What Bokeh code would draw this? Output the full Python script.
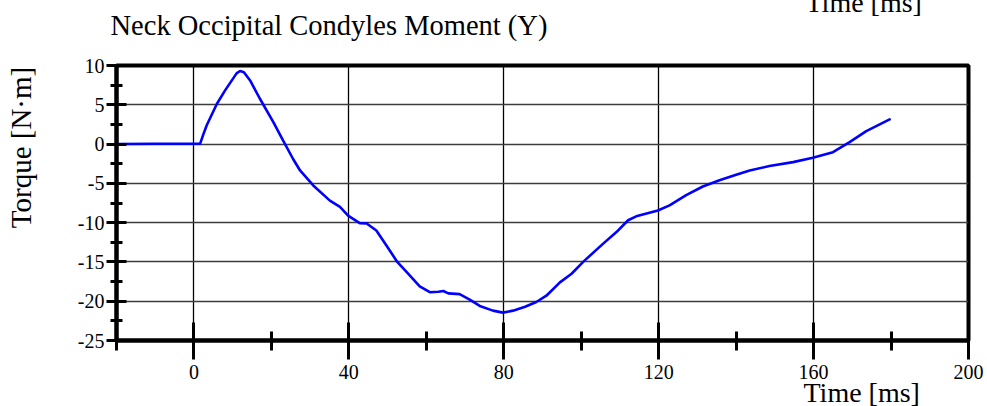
import math
from bokeh.plotting import figure
from bokeh.models import (Range1d, FixedTicker, LinearAxis, Grid,
                          CustomJSTickFormatter)
from bokeh.core.properties import value
from bokeh.embed import file_html
from bokeh.resources import INLINE

# ---- data ----
time_ms = [-20, -10, 0, 1.6, 2.4, 3.3, 5.9, 8.0, 11.0, 11.9, 12.9, 14.5, 17.0, 20.5,
           23.0, 25.6, 27.4, 30.8, 35.1, 37.7, 39.8, 42.8, 44.6, 47.1, 49.7, 52.5,
           55.3, 58.3, 60.9, 63.1, 64.4, 65.7, 68.6, 71.2, 73.8, 77.2, 79.8, 82.4,
           85.5, 88.4, 91.0, 94.5, 97.5, 100.7, 105.6, 109.1, 112.1, 114.2, 119.8,
           122.8, 127.1, 131.4, 135.7, 140.0, 143.5, 148.6, 154.7, 159.8, 165.0,
           169.3, 173.6, 179.9]
torque = [0.0, 0.05, 0.05, 0.05, 1.2, 2.4, 5.1, 6.8, 9.0, 9.3, 9.15, 8.1, 5.8, 2.8,
          0.46, -1.9, -3.36, -5.27, -7.2, -8.0, -9.1, -10.06, -10.1, -11.0, -12.9, -15.0,
          -16.5, -18.1, -18.85, -18.8, -18.7, -19.0, -19.1, -19.8, -20.6, -21.2, -21.45, -21.2,
          -20.7, -20.1, -19.3, -17.6, -16.5, -14.9, -12.7, -11.2, -9.7, -9.2, -8.45,
          -7.8, -6.5, -5.4, -4.6, -3.9, -3.36, -2.8, -2.3, -1.75, -1.03,
          0.24, 1.64, 3.2]

x_major = [0, 40, 80, 120, 160, 200]
x_minor = [-20, 20, 60, 100, 140, 180]
x_grid = [0, 40, 80, 120, 160]
y_major = [-25, -20, -15, -10, -5, 0, 5, 10]
y_minor = [-22.5, -17.5, -12.5, -7.5, -2.5, 2.5, 7.5]
y_grid = [-20, -15, -10, -5, 0, 5]

title_text = "Neck Occipital Condyles Moment (Y)"
x_label = "Time [ms]"
y_label = "Torque [N·m]"

FONT = "Liberation Serif"

W, H = 987, 406
FL, FT, FR, FB = 116, 65, 968, 340  # frame box in figure px
X0, X1, Y0, Y1 = -20, 200, -25, 10

p = figure(width=W, height=H, output_backend="svg", toolbar_location=None,
           x_range=Range1d(X0, X1), y_range=Range1d(Y0, Y1),
           x_axis_type=None, y_axis_type=None,
           min_border_left=FL, min_border_top=FT,
           min_border_right=W - FR, min_border_bottom=H - FB)
p.title.visible = False
p.background_fill_color = "white"
p.border_fill_color = "white"
p.outline_line_color = "black"
p.outline_line_width = 4

fmt = CustomJSTickFormatter(code="return String(tick);")
xa = LinearAxis(ticker=FixedTicker(ticks=x_major, minor_ticks=x_minor), formatter=fmt)
ya = LinearAxis(ticker=FixedTicker(ticks=y_major, minor_ticks=y_minor), formatter=fmt)
for ax in (xa, ya):
    ax.axis_line_color = "black"
    ax.axis_line_width = 4
    ax.major_tick_line_color = "black"
    ax.major_tick_line_width = 3
    ax.minor_tick_line_color = "black"
    ax.minor_tick_line_width = 3
    ax.major_label_text_font = FONT
    ax.major_label_text_font_size = "20px"
    ax.major_label_text_color = "black"
    ax.major_label_text_font_style = "normal"

xa.major_tick_in = 18
xa.major_tick_out = 19
xa.minor_tick_in = 9
xa.minor_tick_out = 10
xa.major_label_standoff = 5

ya.major_tick_in = 10
ya.major_tick_out = 10
ya.minor_tick_in = 6
ya.minor_tick_out = 6
ya.major_label_standoff = 2

p.add_layout(xa, "below")
p.add_layout(ya, "left")

gx = Grid(dimension=0, ticker=FixedTicker(ticks=x_grid),
          grid_line_color="black", grid_line_width=1.3)
gy = Grid(dimension=1, ticker=FixedTicker(ticks=y_grid),
          grid_line_color="#3c3c3c", grid_line_width=1.6)
p.add_layout(gx)
p.add_layout(gy)

p.line(time_ms, torque, line_color="#0000ff", line_width=2.6)


# free texts: positions given in canvas px, converted to data units;
# drawn at overlay level so they are not clipped to the plot frame
def dx(px):
    return X0 + (px - FL) * (X1 - X0) / (FR - FL)


def dy(py):
    return Y1 - (py - FT) * (Y1 - Y0) / (FB - FT)


def txt(text, px, py, size, angle=0.0, align="left", baseline="alphabetic"):
    p.text(x=[dx(px)], y=[dy(py)], text=[text], angle=angle,
           text_font=value(FONT), text_font_size=value("%gpx" % size), text_color="black",
           text_align=align, text_baseline=baseline, level="overlay")


txt(title_text, 110, 25.2, 28.5)
txt(x_label, 803, 392.2, 28)
txt(x_label, 805, 2.1, 28)
txt(y_label, 20, 147, 29, angle=math.pi / 2, align="center", baseline="middle")

open("out.html", "w").write(file_html(p, INLINE))
